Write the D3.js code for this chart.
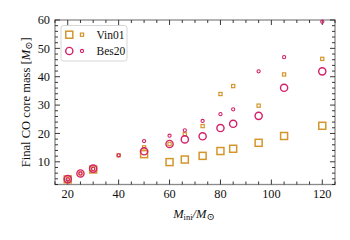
<!DOCTYPE html>
<html><head><meta charset="utf-8">
<script src="https://cdn.jsdelivr.net/npm/d3@7"></script>
<style>
html,body{margin:0;padding:0;background:#fff;}
svg text{font-family:"Liberation Serif","DejaVu Serif",serif;fill:#111;}
</style></head>
<body><svg id="c" width="350" height="240"></svg>
<script>
const masses   = [20, 25, 30, 40, 50, 60, 66, 73, 80, 85, 95, 105, 120];
const vinLarge = [3.8, null, 7.3, null, 12.7, 9.9, 10.8, 12.1, 13.8, 14.6, 16.7, 19.1, 22.7];
const vinSmall = [3.8, 5.9, 7.5, 12.3, 15.1, 16.3, 19.7, 22.6, 33.9, 36.7, 29.8, 40.8, 46.3];
const besLarge = [3.9, 5.9, 7.6, null, 13.7, 16.3, 17.9, 19.0, 21.9, 23.4, 26.2, 36.1, 41.9];
const besSmall = [3.8, 5.9, 7.5, 12.3, 17.3, 19.2, 21.1, 24.4, 26.8, 28.5, 41.9, 46.9, 59.4];
const xTicks = [20, 40, 60, 80, 100, 120];
const yTicks = [10, 20, 30, 40, 50, 60];
const seriesNames = ["Vin01", "Bes20"];

const ORANGE = "#d4962c", MAGENTA = "#d42068";
const svg = d3.select("#c");
const L = 55, R = 335, T = 20, B = 184.5;
const x = d3.scaleLinear().domain([15, 125]).range([L, R]);
const y = d3.scaleLinear().domain([2, 60]).range([B, T]);

// frame
svg.append("rect").attr("x", L).attr("y", T).attr("width", R - L).attr("height", B - T)
  .attr("fill", "none").attr("stroke", "#8a8a8a").attr("stroke-width", 1.3);

// ticks
const g = svg.append("g").attr("stroke", "#222").attr("stroke-width", 0.9);
const xMinor = d3.range(15, 126, 5);
const yMinor = d3.range(2, 61, 2);
xMinor.forEach(v => {
  const len = xTicks.includes(v) ? 5 : 3;
  g.append("line").attr("x1", x(v)).attr("x2", x(v)).attr("y1", B).attr("y2", B - len);
  g.append("line").attr("x1", x(v)).attr("x2", x(v)).attr("y1", T).attr("y2", T + len);
});
yMinor.forEach(v => {
  const len = yTicks.includes(v) ? 5 : 3;
  g.append("line").attr("y1", y(v)).attr("y2", y(v)).attr("x1", L).attr("x2", L + len);
  g.append("line").attr("y1", y(v)).attr("y2", y(v)).attr("x1", R).attr("x2", R - len);
});

// tick labels
svg.append("g").selectAll("text").data(xTicks).join("text")
  .attr("x", d => x(d)).attr("y", 197.5).attr("text-anchor", "middle")
  .attr("font-size", 12.3).text(d => d);
svg.append("g").selectAll("text").data(yTicks).join("text")
  .attr("x", 50).attr("y", d => y(d) + 4.2).attr("text-anchor", "end")
  .attr("font-size", 12.3).text(d => d);

// axis labels
const xl = svg.append("text").attr("x", 194).attr("y", 217.5).attr("text-anchor", "middle").attr("font-size", 12.5);
xl.append("tspan").attr("font-style", "italic").text("M");
xl.append("tspan").attr("font-size", 8.5).attr("dy", 2).text("ini");
xl.append("tspan").attr("dy", -2).attr("font-style", "italic").text("/M");
xl.append("tspan").attr("font-size", 10).attr("dy", 2.5).text("⊙");

const yl = svg.append("text").attr("transform", `translate(29.5,${(T + B) / 2}) rotate(-90)`)
  .attr("text-anchor", "middle").attr("font-size", 12.6);
yl.append("tspan").text("Final CO core mass [");
yl.append("tspan").attr("font-style", "italic").text("M");
yl.append("tspan").attr("font-size", 10).attr("dy", 2.5).text("⊙");
yl.append("tspan").attr("dy", -2.5).text("]");

// markers
const pts = (arr) => masses.map((m, i) => ({m, v: arr[i]})).filter(d => d.v != null);
const plot = svg.append("g");
function squares(arr, s, sw) {
  plot.append("g").selectAll("rect").data(pts(arr)).join("rect")
    .attr("x", d => x(d.m) - s / 2).attr("y", d => y(d.v) - s / 2)
    .attr("width", s).attr("height", s)
    .attr("fill", "none").attr("stroke", ORANGE).attr("stroke-width", sw);
}
function circles(arr, r, sw) {
  plot.append("g").selectAll("circle").data(pts(arr)).join("circle")
    .attr("cx", d => x(d.m)).attr("cy", d => y(d.v)).attr("r", r)
    .attr("fill", "none").attr("stroke", MAGENTA).attr("stroke-width", sw);
}
squares(vinLarge, 7, 1.5);
squares(vinSmall, 3.2, 1.2);
circles(besLarge, 3.6, 1.4);
circles(besSmall, 1.6, 1.1);

// legend
const lg = svg.append("g");
lg.append("rect").attr("x", 61).attr("y", 25.5).attr("width", 66).attr("height", 35.5)
  .attr("rx", 2.5).attr("fill", "#fff").attr("stroke", "#d6d6d6").attr("stroke-width", 1);
[0, 1].forEach(i => {
  const cy = 34.7 + i * 16.3;
  if (i === 0) {
    lg.append("rect").attr("x", 69.3 - 3.5).attr("y", cy - 3.5).attr("width", 7).attr("height", 7)
      .attr("fill", "none").attr("stroke", ORANGE).attr("stroke-width", 1.5);
    lg.append("rect").attr("x", 82 - 1.6).attr("y", cy - 1.6).attr("width", 3.2).attr("height", 3.2)
      .attr("fill", "none").attr("stroke", ORANGE).attr("stroke-width", 1.2);
  } else {
    lg.append("circle").attr("cx", 69.3).attr("cy", cy).attr("r", 3.6)
      .attr("fill", "none").attr("stroke", MAGENTA).attr("stroke-width", 1.4);
    lg.append("circle").attr("cx", 82).attr("cy", cy).attr("r", 1.6)
      .attr("fill", "none").attr("stroke", MAGENTA).attr("stroke-width", 1.1);
  }
  lg.append("text").attr("x", 96.5).attr("y", cy + 3.8).attr("font-size", 11.5).text(seriesNames[i]);
});
</script></body></html>
